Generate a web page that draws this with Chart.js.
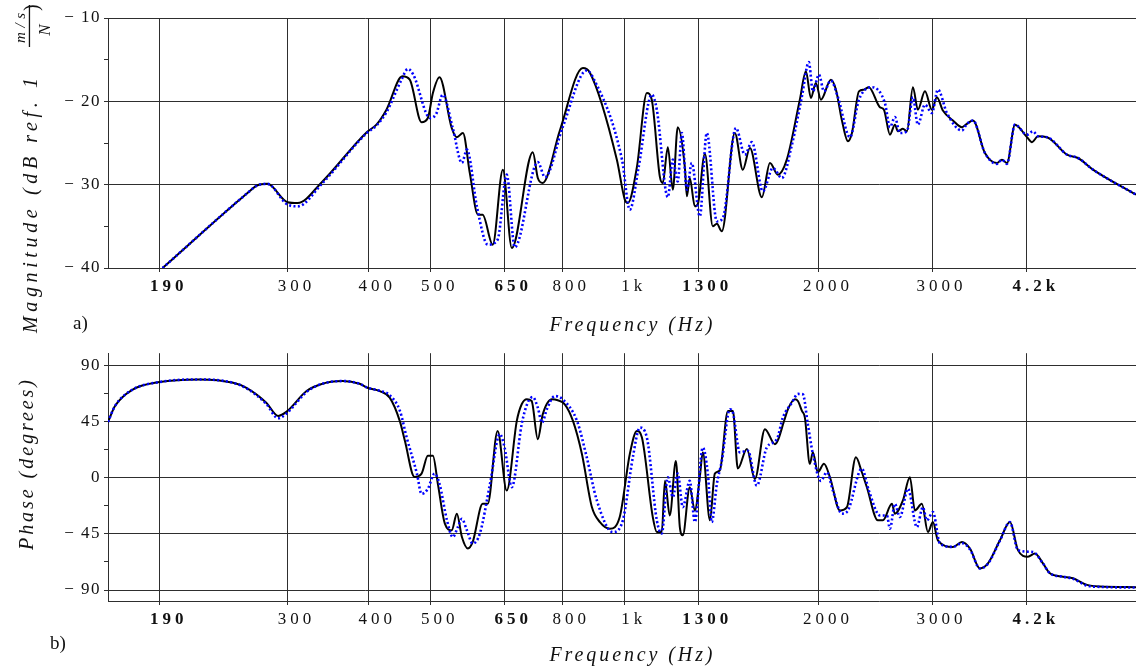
<!DOCTYPE html>
<html>
<head>
<meta charset="utf-8">
<script src="https://cdn.jsdelivr.net/npm/chart.js@4.4.1/dist/chart.umd.min.js"></script>
<style>
  html, body { margin: 0; padding: 0; background: #fff; overflow: hidden; }
  #wrap { position: relative; width: 1136px; height: 671px; }
  canvas { position: absolute; left: 0; }
  #c1 { top: 0; }
  #c2 { top: 340px; }
</style>
</head>
<body>
<div id="wrap">
  <canvas id="c1" width="1136" height="340"></canvas>
  <canvas id="c2" width="1136" height="331"></canvas>
</div>
<script>
// ---------- data ----------
const xTickValues = [190, 300, 400, 500, 650, 800, 1000, 1300, 2000, 3000, 4200];
const xTickLabels = ['190', '300', '400', '500', '650', '800', '1k', '1300', '2000', '3000', '4.2k'];
const xTickBold   = [true, false, false, false, true, false, false, true, false, false, true];

const magTickValues = [-40, -35, -30, -25, -20, -15, -10];
const phaseTickValues = [-90, -67.5, -45, -22.5, 0, 22.5, 45, 67.5, 90];

// Magnitude, solid black series
const magFreqBlack = [192,260,269,279,300,311,339,398,412,427,452,464,484,495,504,516,539,549,561,575,592,602,624,647,668,720,733,746,793,861,882,972,1000,1011,1044,1082,1101,1133,1145,1166,1187,1208,1239,1248,1261,1284,1298,1331,1369,1389,1414,1481,1524,1563,1631,1679,1727,1783,1868,1909,1943,1978,2014,2087,2125,2171,2218,2250,2307,2348,2390,2486,2522,2577,2623,2651,2699,2738,2797,2847,2920,2993,3047,3113,3227,3332,3392,3466,3617,3776,3844,3913,4027,4203,4279,4371,4514,4848,5043,5320,6203];
const magBlack = [-40.0,-31.0,-30.1,-29.9,-32.1,-32.2,-29.7,-23.7,-22.8,-21.0,-17.0,-17.4,-22.5,-22.0,-19.0,-17.1,-23.2,-24.3,-23.8,-28.6,-33.6,-33.6,-37.2,-28.2,-37.6,-26.1,-29.2,-29.8,-23.5,-16.0,-16.5,-27.0,-31.8,-32.2,-27.9,-19.0,-19.8,-29.0,-29.8,-25.5,-30.6,-23.1,-27.9,-31.4,-29.2,-32.6,-32.3,-26.3,-35.0,-34.7,-35.6,-23.8,-28.2,-25.6,-31.5,-27.4,-28.8,-27.0,-19.8,-16.4,-19.6,-17.8,-19.8,-17.4,-18.6,-22.3,-24.8,-23.8,-18.8,-18.6,-18.3,-20.7,-21.0,-24.0,-22.8,-23.6,-23.3,-23.6,-18.3,-21.0,-18.8,-21.0,-19.5,-21.1,-22.3,-23.1,-22.7,-22.3,-26.2,-27.4,-27.0,-27.4,-22.8,-24.3,-24.9,-24.2,-24.3,-26.4,-26.8,-28.2,-31.2];

// Magnitude, dotted blue series
const magFreqBlue = [192,260,269,279,300,311,339,398,412,427,450,461,470,499,510,522,541,559,569,590,613,635,656,675,733,752,801,873,892,990,1018,1050,1101,1121,1166,1187,1208,1226,1248,1270,1307,1340,1389,1419,1487,1535,1574,1637,1697,1752,1816,1882,1929,1957,2000,2036,2087,2140,2234,2307,2416,2531,2577,2623,2670,2738,2797,2847,2920,2993,3058,3158,3332,3392,3466,3617,3776,3844,3913,4027,4203,4293,4371,4514,4848,5043,5320,6203];
const magBlue = [-40.0,-31.0,-30.1,-29.9,-32.4,-32.6,-29.9,-23.8,-22.9,-21.3,-17.5,-16.1,-16.8,-22.0,-21.5,-19.2,-23.2,-27.4,-25.8,-32.7,-37.2,-36.6,-28.8,-37.5,-27.3,-29.1,-23.1,-16.3,-17.1,-27.0,-33.0,-28.0,-19.2,-21.0,-31.5,-27.0,-29.6,-23.8,-30.6,-27.4,-33.8,-23.8,-34.4,-34.0,-23.2,-26.4,-24.9,-30.8,-28.0,-29.2,-25.2,-19.4,-15.3,-18.8,-16.8,-18.8,-17.5,-19.5,-24.3,-19.8,-18.3,-20.2,-23.1,-21.9,-23.8,-23.6,-19.5,-22.8,-20.4,-21.4,-18.6,-21.4,-23.5,-22.7,-22.3,-26.2,-27.5,-27.0,-27.5,-22.8,-24.0,-23.6,-24.2,-24.3,-26.4,-26.8,-28.2,-31.2];

// Phase, solid black series
const phaseFreqBlack = [158,162,172,190,219,247,259,278,290,299,321,337,365,388,399,417,432,448,456,472,484,495,504,513,526,539,549,559,571,581,602,613,635,656,680,692,705,717,733,746,771,787,807,831,858,889,915,948,982,1018,1044,1063,1105,1121,1141,1154,1174,1200,1217,1230,1261,1284,1307,1321,1355,1379,1404,1445,1471,1497,1546,1591,1649,1709,1770,1790,1835,1855,1882,1902,1936,1957,1992,2036,2080,2155,2210,2282,2331,2373,2468,2513,2595,2623,2699,2767,2817,2888,2951,3004,3058,3227,3332,3429,3553,3656,3816,3955,4070,4217,4324,4450,4562,4779,4953,5207,5453,6203];
const phaseBlack = [44.6,57.3,70.1,76.5,78.6,75.9,71.9,60.0,49.4,52.8,69.3,74.6,77.3,75.1,71.9,69.3,64.0,45.0,29.5,0.5,3.2,17.5,17.5,-5.0,-36.9,-42.2,-28.9,-47.6,-56.8,-51.5,-21.0,-21.0,37.4,-10.4,45.4,58.7,62.7,61.3,30.8,50.7,62.7,61.9,58.7,45.4,18.9,-23.6,-35.6,-40.9,-31.6,18.9,37.4,32.1,-31.6,-43.6,-43.6,-2.6,-30.3,13.3,-39.6,-46.2,-7.7,-26.3,0.3,20.2,-34.2,3.2,5.8,53.4,53.4,7.2,22.9,-1.1,38.8,26.8,47.0,54.7,62.7,61.3,53.4,48.0,11.0,20.2,4.3,11.0,0.3,-26.3,-23.6,16.2,4.3,-7.7,-34.2,-34.2,-21.0,-28.9,-18.3,0.3,-26.3,-21.0,-43.6,-35.6,-50.2,-55.5,-51.5,-56.8,-72.7,-68.7,-50.2,-35.6,-58.1,-63.4,-60.8,-68.7,-76.6,-79.3,-80.6,-85.9,-87.2,-87.7];

// Phase, dotted blue series
const phaseFreqBlue = [158,162,172,190,219,247,259,278,290,299,321,337,365,388,399,417,432,448,459,476,484,495,507,516,530,541,551,559,569,581,596,618,640,651,668,692,707,720,733,744,757,779,801,843,873,905,958,993,1029,1055,1082,1121,1141,1166,1187,1208,1230,1261,1284,1321,1345,1364,1389,1414,1455,1471,1508,1552,1602,1660,1721,1758,1816,1855,1888,1922,1957,2014,2057,2102,2171,2218,2331,2390,2486,2549,2577,2623,2670,2748,2837,2898,2940,3004,3080,3227,3332,3429,3553,3656,3816,3955,4070,4293,4450,4562,4779,4953,5207,5453,6203];
const phaseBlue = [44.6,57.3,70.1,76.5,78.6,75.9,71.5,59.0,47.5,51.5,68.5,74.6,77.3,75.1,72.0,69.5,66.0,53.4,32.0,3.2,-13.0,-9.0,3.2,-5.0,-34.2,-47.6,-39.6,-33.0,-42.2,-52.8,-44.8,-5.0,34.8,24.1,-7.7,42.8,60.0,64.5,56.0,44.0,54.7,65.3,62.7,45.4,16.2,-18.3,-43.6,-34.2,16.2,40.0,32.0,-34.2,-44.8,0.3,-15.7,3.2,-23.6,-2.6,-35.6,24.1,3.2,-35.6,-5.0,13.5,54.7,52.0,20.2,21.5,-6.4,24.1,30.8,48.0,60.0,67.0,66.7,42.8,18.9,-2.6,4.3,-10.4,-28.9,-26.3,7.2,-10.4,-30.3,-30.3,-40.9,-21.0,-31.6,-9.0,-39.6,-23.6,-34.2,-27.6,-52.8,-55.5,-52.5,-57.5,-72.7,-69.0,-50.5,-35.6,-58.1,-59.6,-68.7,-76.6,-79.3,-81.0,-86.5,-87.5,-88.0];

// ---------- helpers ----------
const SERIF = '"Liberation Serif", "DejaVu Serif", serif';
const GRID = '#2e2e2e';
const TEXT = '#111';
const toPts = (xs, ys) => xs.map((x, i) => ({ x: x, y: ys[i] }));
const minus = v => (v < 0 ? '\u2212 ' + Math.abs(v) : String(v));

function spacedText(ctx, text, x, y, width, align) {
  ctx.letterSpacing = '0px';
  const w0 = ctx.measureText(text).width;
  const s = Math.max(0, (width - w0) / Math.max(1, text.length - 1));
  ctx.letterSpacing = s + 'px';
  ctx.textAlign = 'left';
  const total = w0 + s * (text.length - 1);
  const start = align === 'center' ? x - total / 2 : x;
  ctx.fillText(text, start, y);
  ctx.letterSpacing = '0px';
}

function lineDatasets(fb, vb, fl, vl) {
  return [
    { label: 'Measured', data: toPts(fb, vb), borderColor: '#000000', borderWidth: 2,
      pointRadius: 0, fill: false, cubicInterpolationMode: 'monotone', order: 1 },
    { label: 'Model', data: toPts(fl, vl), borderColor: '#0000ff', borderWidth: 2.6,
      borderDash: [2, 2.4], pointRadius: 0, fill: false, cubicInterpolationMode: 'monotone', order: 0 }
  ];
}

function xScale(height) {
  return {
    type: 'logarithmic', min: 158, max: 6203,
    afterBuildTicks: s => { s.ticks = xTickValues.map(v => ({ value: v })); },
    afterFit: s => { s.height = height; },
    grid: { color: GRID, lineWidth: 1, drawTicks: true, tickLength: 4 },
    border: { display: true, color: GRID, width: 1 },
    ticks: {
      autoSkip: false, maxRotation: 0, minRotation: 0, padding: 4, labelOffset: 9, z: 1,
      color: TEXT,
      font: c => ({ family: SERIF, size: 17, weight: xTickBold[c.index] ? 'bold' : 'normal' }),
      callback: (v, i) => xTickLabels[i]
    }
  };
}

function yScale(min, max, tickVals, majorTest) {
  return {
    type: 'linear', min: min, max: max,
    afterBuildTicks: s => { s.ticks = tickVals.map(v => ({ value: v })); },
    afterFit: s => { s.width = 108; },
    grid: {
      color: c => (c.tick && majorTest(c.tick.value) ? GRID : 'rgba(0,0,0,0)'),
      tickColor: GRID, tickLength: 4, lineWidth: 1
    },
    border: { display: true, color: GRID, width: 1 },
    ticks: {
      autoSkip: false, padding: 3, color: TEXT,
      font: { family: SERIF, size: 17 },
      callback: v => (majorTest(v) ? minus(v) : '')
    }
  };
}

function spacingPlugin(id, drawTitles) {
  return {
    id: id,
    beforeDraw: chart => { chart.ctx.letterSpacing = '1.5px'; },
    afterDatasetsDraw: chart => { chart.ctx.letterSpacing = '4px'; },
    afterDraw: chart => {
      const ctx = chart.ctx;
      ctx.save();
      ctx.letterSpacing = '0px';
      ctx.fillStyle = TEXT;
      ctx.textBaseline = 'alphabetic';
      drawTitles(ctx);
      ctx.restore();
      ctx.letterSpacing = '0px';
    }
  };
}

// ---------- top chart: magnitude ----------
new Chart(document.getElementById('c1'), {
  type: 'line',
  data: { datasets: lineDatasets(magFreqBlack, magBlack, magFreqBlue, magBlue) },
  options: {
    responsive: false, animation: false, devicePixelRatio: 1,
    layout: { padding: { top: 18, left: 0, right: 0, bottom: 0 } },
    plugins: { legend: { display: false }, tooltip: { enabled: false } },
    scales: {
      x: xScale(72),
      y: yScale(-40, -10, magTickValues, v => v % 10 === 0)
    }
  },
  plugins: [spacingPlugin('magTitles', ctx => {
    // x title
    ctx.font = 'italic 20px ' + SERIF;
    spacedText(ctx, 'Frequency (Hz)', 631, 331, 163, 'center');
    // panel tag
    ctx.font = '19px ' + SERIF;
    ctx.textAlign = 'left';
    ctx.fillText('a)', 73, 329);
    // rotated y title with fraction
    ctx.save();
    ctx.translate(37, 333);
    ctx.rotate(-Math.PI / 2);
    ctx.font = 'italic 20px ' + SERIF;
    spacedText(ctx, 'Magnitude (dB ref. 1', 0, 0, 255, 'left');
    ctx.font = 'italic 15px ' + SERIF;
    spacedText(ctx, 'm / s', 305, -12, 30, 'center');
    ctx.fillRect(286, -8.2, 42, 1.3);
    ctx.font = 'italic 17px ' + SERIF;
    ctx.textAlign = 'center';
    ctx.fillText('N', 303, 13);
    ctx.font = '20px ' + SERIF;
    ctx.textAlign = 'left';
    ctx.textBaseline = 'middle';
    ctx.fillText(')', 322, -4);
    ctx.restore();
  })]
});

// ---------- bottom chart: phase ----------
new Chart(document.getElementById('c2'), {
  type: 'line',
  data: { datasets: lineDatasets(phaseFreqBlack, phaseBlack, phaseFreqBlue, phaseBlue) },
  options: {
    responsive: false, animation: false, devicePixelRatio: 1,
    layout: { padding: { top: 12, left: 0, right: 0, bottom: 0 } },
    plugins: { legend: { display: false }, tooltip: { enabled: false } },
    scales: {
      x: xScale(70),
      y: yScale(-98.8, 99.6, phaseTickValues, v => v % 45 === 0)
    }
  },
  plugins: [spacingPlugin('phaseTitles', ctx => {
    ctx.font = 'italic 20px ' + SERIF;
    spacedText(ctx, 'Frequency (Hz)', 631, 321, 163, 'center');
    ctx.font = '19px ' + SERIF;
    ctx.textAlign = 'left';
    ctx.fillText('b)', 50, 309);
    ctx.save();
    ctx.translate(33, 210);
    ctx.rotate(-Math.PI / 2);
    ctx.font = 'italic 20px ' + SERIF;
    spacedText(ctx, 'Phase (degrees)', 0, 0, 170, 'left');
    ctx.restore();
  })]
});
</script>
</body>
</html>
